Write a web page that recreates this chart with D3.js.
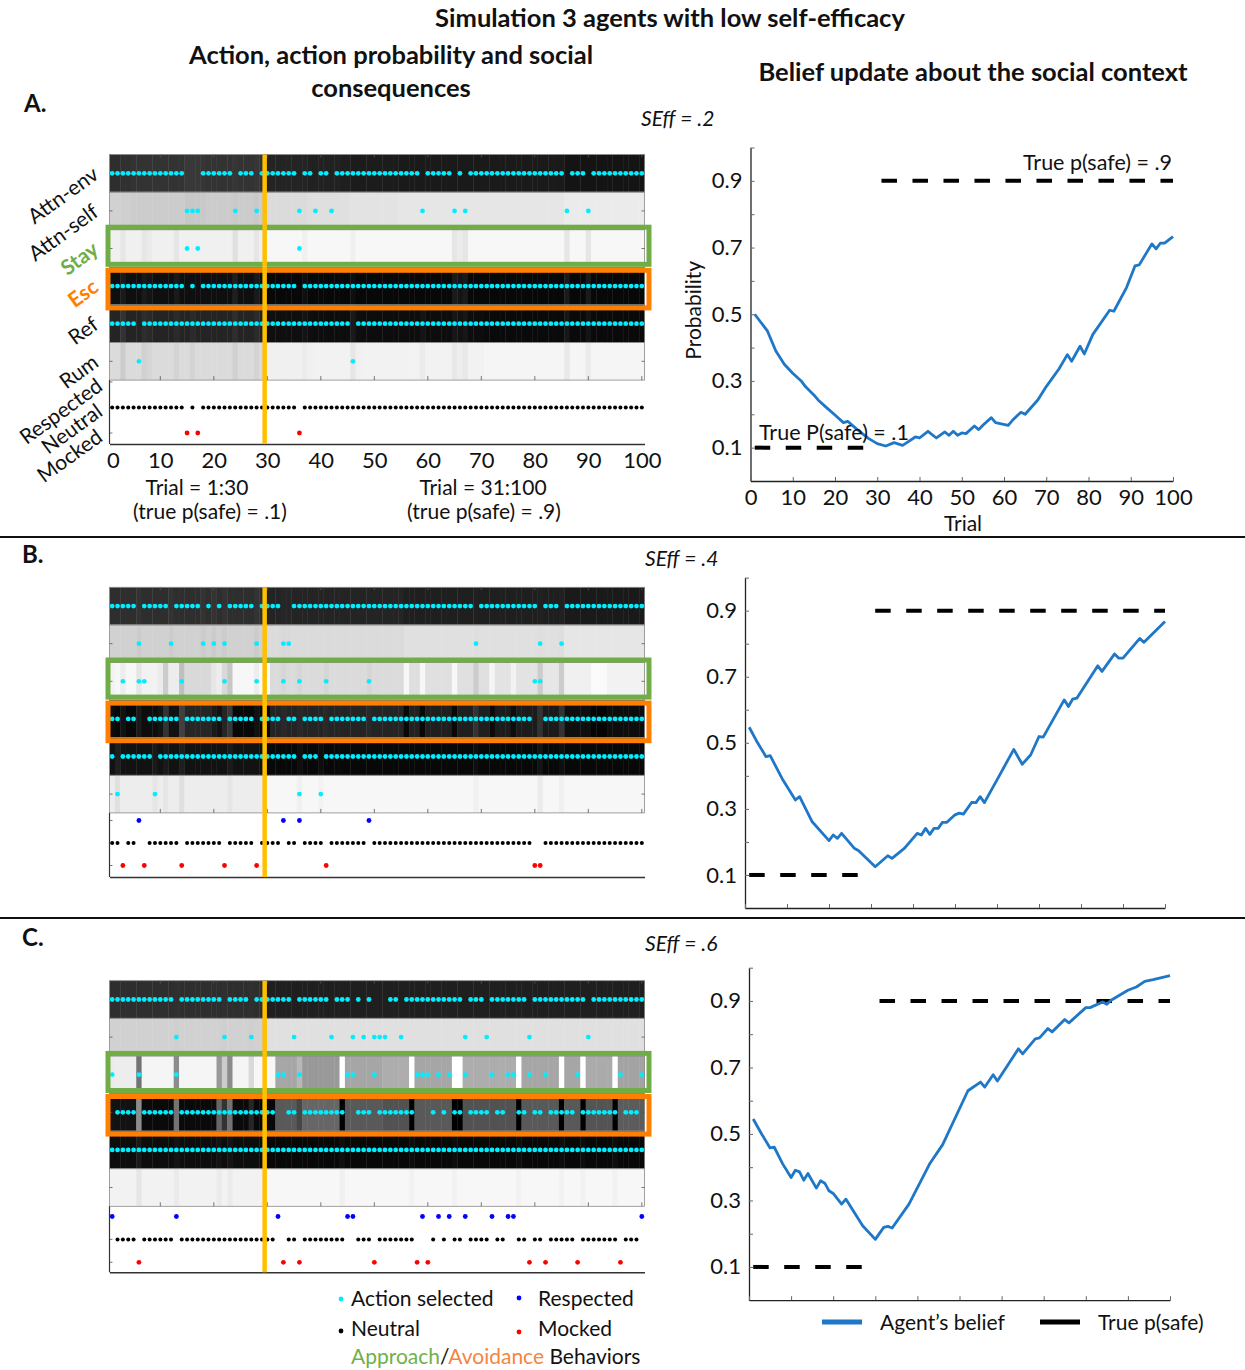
<!DOCTYPE html>
<html>
<head>
<meta charset="utf-8">
<script src="https://cdn.jsdelivr.net/npm/d3@7"></script>
<style>
  body { margin: 0; background: #fff; }
  svg { display: block; }
  text { font-family: Lato, "Open Sans", sans-serif; fill: #111; }
</style>
</head>
<body>
<div id="chart"></div>
<script>
// ---- shared categories / ticks ----
const trials = d3.range(1, 101);
const actionRows = ["Attn-env", "Attn-self", "Stay", "Esc", "Ref", "Rum"];
const outcomeRows = ["Respected", "Neutral", "Mocked"];
const trialTicks = [0, 10, 20, 30, 40, 50, 60, 70, 80, 90, 100];
const probTicks = [0.1, 0.2, 0.3, 0.4, 0.5, 0.6, 0.7, 0.8, 0.9, 1.0];
const switchTrial = 30;
const trueSafe = [{ from: 1, to: 30, p: 0.1 }, { from: 31, to: 100, p: 0.9 }];

// ---- panel A (SEff = .2) ----
const attnSelfA = [15, 16, 17, 24, 28, 36, 39, 42, 59, 65, 67, 86, 90];
const stayA = [15, 17, 36];
const rumA = [6, 46];
const respectedA = [];
const mockedA = [15, 17, 36];
const pSelfA = [
  .18,.18,.19,.19,.2,.2,.2,.2,.2,.2, .2,.2,.2,.2,.22,.22,.22,.21,.2,.2,
  .2,.2,.2,.21,.2,.2,.2,.21,.2,.14, .14,.14,.14,.14,.14,.14,.14,.13,.13,.13,
  .13,.13,.13,.12,.12,.11,.11,.11,.11,.11, .11,.11,.11,.11,.1,.1,.1,.1,.1,.1,
  .1,.1,.1,.1,.1,.1,.1,.1,.1,.1, .1,.1,.1,.1,.1,.1,.1,.1,.1,.1,
  .1,.1,.1,.1,.1,.08,.08,.08,.08,.08, .08,.08,.08,.08,.08,.08,.08,.08,.08,.08];
const pStayA = [
  .06,.06,.1,.06,.06,.06,.1,.08,.06,.06, .06,.06,.1,.06,.06,.06,.06,.06,.06,.06,
  .06,.06,.06,.12,.06,.06,.06,.1,.06,.03, .03,.03,.03,.03,.03,.03,.06,.03,.03,.03,
  .03,.03,.03,.03,.03,.06,.03,.03,.03,.03, .03,.03,.03,.03,.03,.03,.03,.03,.03,.03,
  .03,.03,.03,.03,.1,.08,.1,.03,.03,.03, .03,.03,.03,.03,.03,.03,.03,.03,.03,.03,
  .03,.03,.03,.03,.03,.1,.03,.03,.03,.1, .03,.03,.03,.03,.03,.03,.03,.03,.03,.03];
const pRumA = [
  .14,.14,.2,.14,.14,.14,.18,.16,.14,.14, .14,.14,.17,.14,.14,.17,.14,.14,.14,.14,
  .14,.14,.14,.18,.14,.14,.14,.17,.14,.06, .06,.06,.06,.06,.06,.06,.08,.06,.05,.05,
  .05,.05,.05,.05,.05,.1,.06,.05,.05,.05, .05,.05,.05,.05,.05,.05,.05,.05,.08,.05,
  .05,.05,.05,.05,.09,.07,.09,.05,.05,.05, .04,.04,.04,.04,.04,.04,.04,.04,.04,.04,
  .04,.04,.04,.04,.04,.09,.04,.04,.04,.08, .04,.04,.04,.04,.04,.04,.04,.04,.04,.04];
const beliefA = [
  [1,.50],[4,.45],[6,.39],[8,.35],[10,.323],[12,.30],[13,.283],[15,.258],[16,.243],[18,.22],
  [20,.198],[22,.175],[23,.179],[25,.157],[27,.137],[28,.127],[30,.112],[32,.105],[34,.115],[36,.107],
  [37,.115],[39,.132],[40,.129],[42,.149],[44,.129],[46,.147],[47,.137],[48,.149],[49,.137],[50,.144],
  [51,.142],[53,.165],[54,.154],[55,.167],[57,.19],[58,.175],[61,.167],[62,.182],[64,.206],[65,.2],
  [68,.243],[70,.283],[73,.336],[75,.379],[76,.359],[78,.404],[79,.381],[81,.439],[85,.512],[86,.509],
  [89,.58],[91,.645],[92,.648],[95,.711],[96,.696],[97,.713],[98,.713],[100,.733]];

// ---- panel B (SEff = .4) ----
const attnSelfB = [6, 12, 18, 20, 22, 28, 33, 34, 69, 81, 85];
const stayB = [3, 6, 7, 14, 22, 28, 33, 36, 41, 49, 80, 81];
const rumB = [2, 9, 36, 40];
const respectedB = [6, 33, 36, 49];
const mockedB = [3, 7, 14, 22, 28, 41, 80, 81];
const pSelfB = [
  .18,.18,.18,.18,.18,.2,.18,.18,.18,.18, .18,.2,.18,.18,.18,.18,.18,.2,.18,.2,
  .18,.2,.18,.18,.18,.18,.18,.2,.18,.14, .14,.14,.15,.15,.14,.14,.14,.14,.14,.14,
  .14,.14,.14,.14,.14,.14,.14,.14,.14,.14, .14,.14,.14,.14,.14,.12,.12,.12,.12,.12,
  .12,.12,.12,.12,.12,.12,.12,.12,.13,.12, .12,.12,.12,.12,.12,.12,.12,.12,.12,.12,
  .13,.12,.12,.12,.13,.1,.1,.1,.1,.1, .1,.1,.1,.1,.1,.1,.1,.1,.1,.1];
const pStayB = [
  .05,.03,.07,.03,.03,.1,.05,.05,.05,.08, .2,.07,.07,.25,.15,.15,.15,.15,.15,.1,
  .07,.15,.22,.03,.03,.03,.03,.07,.02,.02, .14,.14,.16,.14,.14,.16,.14,.14,.14,.14,
  .16,.14,.14,.14,.14,.14,.14,.14,.16,.14, .14,.14,.14,.14,.14,.03,.13,.13,.03,.12,
  .12,.12,.12,.12,.03,.12,.12,.12,.2,.12, .12,.04,.11,.11,.11,.05,.11,.11,.11,.11,
  .2,.1,.1,.1,.2,.06,.06,.06,.06,.06, .02,.02,.02,.05,.05,.05,.05,.05,.05,.05];
const pRumB = [
  .07,.12,.07,.07,.07,.07,.07,.07,.1,.07, .1,.07,.07,.12,.07,.07,.07,.07,.07,.07,
  .07,.07,.1,.07,.07,.07,.07,.07,.07,.03, .03,.03,.03,.03,.03,.06,.03,.03,.03,.05,
  .03,.03,.03,.03,.03,.03,.03,.03,.03,.03, .03,.03,.03,.03,.03,.03,.03,.03,.03,.03,
  .03,.03,.03,.03,.03,.03,.03,.03,.06,.03, .03,.03,.03,.03,.03,.03,.03,.03,.03,.03,
  .08,.03,.03,.03,.06,.03,.03,.03,.03,.03, .03,.03,.03,.03,.03,.03,.03,.03,.03,.03];
const beliefB = [
  [1,.547],[3,.50],[5,.458],[6,.461],[9,.388],[12,.327],[13,.337],[16,.261],[20,.204],[21,.221],
  [22,.211],[23,.226],[26,.181],[27,.174],[31,.125],[34,.158],[35,.15],[38,.181],[41,.226],[42,.221],
  [43,.241],[44,.223],[45,.241],[46,.241],[47,.259],[48,.259],[50,.282],[51,.287],[52,.284],[54,.32],
  [55,.319],[56,.337],[57,.319],[60,.388],[64,.48],[66,.435],[68,.463],[70,.519],[71,.517],[76,.63],
  [77,.61],[78,.632],[79,.635],[84,.733],[85,.716],[88,.769],[89,.756],[90,.756],[94,.816],[95,.804],
  [100,.867]];

// ---- panel C (SEff = .6) ----
const attnSelfC = [13, 22, 27, 35, 42, 46, 48, 50, 51, 52, 55, 67, 71, 79, 90];
const stayC = [1, 6, 13, 32, 33, 36, 45, 46, 50, 58, 59, 60, 62, 64, 67, 72, 75, 76, 79, 82, 88, 96, 100];
const rumC = [];
const respectedC = [1, 13, 32, 45, 46, 59, 62, 64, 67, 72, 75, 76, 100];
const mockedC = [6, 33, 36, 50, 58, 60, 79, 82, 88, 96];
const pSelfC = [
  .18,.18,.18,.18,.18,.18,.18,.18,.18,.18, .18,.18,.19,.18,.18,.18,.18,.18,.18,.18,
  .18,.19,.18,.18,.18,.18,.19,.18,.18,.12, .12,.12,.12,.12,.12,.12,.12,.12,.12,.12,
  .12,.12,.12,.12,.12,.12,.12,.12,.12,.12, .12,.12,.12,.12,.12,.12,.12,.12,.12,.12,
  .12,.12,.12,.12,.12,.12,.12,.12,.12,.12, .12,.12,.12,.12,.12,.12,.12,.12,.12,.12,
  .12,.12,.12,.12,.12,.12,.12,.12,.12,.12, .12,.12,.12,.12,.12,.12,.12,.12,.12,.12];
const pStayC = [
  .08,.07,.07,.07,.07,.55,.04,.04,.04,.04, .04,.04,.45,.04,.04,.04,.04,.04,.04,.04,
  .4,.2,.45,.04,.04,.04,.15,.03,.03,.03, .03,.35,.35,.35,.35,.28,.4,.4,.4,.4,
  .4,.4,.4,0,.35,.35,.35,.35,.35,.35, .35,.32,.32,.32,.32,.32,0,.35,.35,.35,
  .35,.35,.35,.35,0,0,.32,.32,.32,.32, .32,.32,.32,.32,.32,.32,0,.35,.35,.35,
  .35,.35,.35,.35,0,.35,.35,.35,0,.33, .33,.33,.33,.33,0,.36,.36,.36,.36,.36];
const pRumC = [
  .05,.05,.05,.05,.05,.1,.05,.05,.05,.05, .05,.05,.08,.05,.05,.05,.05,.05,.05,.05,
  .08,.05,.08,.05,.05,.05,.05,.05,.05,.03, .03,.03,.03,.03,.03,.03,.03,.03,.03,.03,
  .03,.03,.03,.06,.03,.03,.03,.03,.03,.03, .03,.03,.03,.03,.03,.03,.05,.03,.03,.03,
  .03,.03,.03,.03,.05,.03,.03,.03,.03,.03, .03,.03,.03,.03,.03,.03,.05,.03,.03,.03,
  .03,.03,.03,.03,.05,.03,.03,.03,.05,.03, .03,.03,.03,.03,.05,.03,.03,.03,.03,.03];
const beliefC = [
  [1,.545],[3,.50],[5,.458],[6,.46],[8,.41],[10,.369],[11,.391],[12,.386],[13,.361],[14,.381],
  [16,.337],[17,.359],[18,.352],[19,.329],[20,.321],[22,.289],[23,.304],[27,.224],[30,.183],[32,.219],
  [33,.222],[34,.217],[38,.289],[43,.412],[46,.468],[52,.63],[55,.656],[56,.641],[58,.678],[59,.659],
  [64,.756],[65,.741],[68,.786],[69,.789],[71,.817],[72,.807],[75,.844],[76,.834],[80,.88],[81,.88],
  [84,.897],[85,.89],[86,.902],[90,.932],[92,.942],[94,.959],[96,.964],[100,.976]];

// ---- layout ----
const width = 1245, height = 1370;
const rowH = 37.6;
const green = "#70ad47", orange = "#ff8000", gold = "#ffc000";
const beliefBlue = "#1f77c8";

const panels = [
  { id: "A", seff: ".2", attnSelf: attnSelfA, stay: stayA, rum: rumA, respected: respectedA, mocked: mockedA,
    pSelf: pSelfA, pStay: pStayA, pRum: pRumA, belief: beliefA,
    top: 154.5, respY: 382, mockY: 433, bottom: 444, letterY: 112, seffX: 641, seffY: 126,
    frame: { x0: 750.5, x1: 1173, y0: 481, y1: 147.5 } },
  { id: "B", seff: ".4", attnSelf: attnSelfB, stay: stayB, rum: rumB, respected: respectedB, mocked: mockedB,
    pSelf: pSelfB, pStay: pStayB, pRum: pRumB, belief: beliefB,
    top: 587.3, respY: 820.5, mockY: 865.5, bottom: 877, letterY: 563, seffX: 645, seffY: 566,
    frame: { x0: 745, x1: 1165, y0: 908, y1: 577.6 } },
  { id: "C", seff: ".6", attnSelf: attnSelfC, stay: stayC, rum: rumC, respected: respectedC, mocked: mockedC,
    pSelf: pSelfC, pStay: pStayC, pRum: pRumC, belief: beliefC,
    top: 980.7, respY: 1216.5, mockY: 1262.3, bottom: 1272.3, letterY: 946, seffX: 645, seffY: 951,
    frame: { x0: 749, x1: 1170, y0: 1300.2, y1: 967.7 } }
];

const svg = d3.select("#chart").append("svg")
  .attr("width", width).attr("height", height)
  .attr("viewBox", `0 0 ${width} ${height}`);
svg.append("rect").attr("width", width).attr("height", height).attr("fill", "#fff");

// ---- titles ----
svg.append("text").attr("x", 670).attr("y", 27).attr("text-anchor", "middle")
  .style("font-size", "25.5px").style("font-weight", "700").text("Simulation 3 agents with low self-efficacy");
svg.append("text").attr("x", 391).attr("y", 64).attr("text-anchor", "middle")
  .style("font-size", "25.5px").style("font-weight", "700").text("Action, action probability and social");
svg.append("text").attr("x", 391).attr("y", 97).attr("text-anchor", "middle")
  .style("font-size", "25.5px").style("font-weight", "700").text("consequences");
svg.append("text").attr("x", 973).attr("y", 81).attr("text-anchor", "middle")
  .style("font-size", "25.5px").style("font-weight", "700").text("Belief update about the social context");

// separators
[537, 918].forEach(y => svg.append("line").attr("x1", 0).attr("x2", width)
  .attr("y1", y).attr("y2", y).attr("stroke", "#111").attr("stroke-width", 2));

// ---- scales shared by heatmaps ----
const xHeat = d3.scaleLinear().domain([0.5, 100.5]).range([109.5, 644.5]);
const shade = d3.interpolateRgb("#000", "#fff");

function drawHeatPanel(p) {
  const g = svg.append("g");
  const yRow = d3.scaleBand().domain(actionRows).range([p.top, p.top + rowH * actionRows.length]);
  const rowsBottom = p.top + rowH * actionRows.length;
  const yOut = d3.scalePoint().domain(outcomeRows).range([p.respY, p.mockY]);

  // lightness of each row at trial t (black = high probability)
  const lightness = {
    "Attn-env": i => p.pSelf[i],
    "Attn-self": i => 1 - p.pSelf[i],
    "Stay": i => 1 - p.pStay[i],
    "Esc": i => p.pStay[i],
    "Ref": i => p.pRum[i],
    "Rum": i => 1 - p.pRum[i]
  };

  const cells = [];
  actionRows.forEach(r => trials.forEach((t, i) => cells.push({ r, t, v: lightness[r](i) })));
  g.append("g").selectAll("rect").data(cells).join("rect")
    .attr("x", d => xHeat(d.t - 0.5))
    .attr("y", d => yRow(d.r))
    .attr("width", d => xHeat(d.t + 0.5) - xHeat(d.t - 0.5) + 0.4)
    .attr("height", yRow.bandwidth())
    .attr("fill", d => shade(d.v));

  // row frames
  g.append("g").selectAll("rect").data(actionRows).join("rect")
    .attr("x", xHeat(0.5)).attr("y", d => yRow(d))
    .attr("width", xHeat(100.5) - xHeat(0.5)).attr("height", yRow.bandwidth())
    .attr("fill", "none").attr("stroke", "#8a8a8a").attr("stroke-width", 0.8);

  // small inside ticks on the row edges
  const tickG = g.append("g").attr("stroke", "#555").attr("stroke-width", 0.8);
  actionRows.forEach(r => {
    const cy = yRow(r) + yRow.bandwidth() / 2;
    tickG.append("line").attr("x1", xHeat(0.5)).attr("x2", xHeat(0.5) + 3).attr("y1", cy).attr("y2", cy);
    tickG.append("line").attr("x1", xHeat(100.5)).attr("x2", xHeat(100.5) - 3).attr("y1", cy).attr("y2", cy);
  });
  trialTicks.filter(t => t > 0).forEach(t => {
    tickG.append("line").attr("x1", xHeat(t)).attr("x2", xHeat(t))
      .attr("y1", rowsBottom).attr("y2", rowsBottom - 4);
    tickG.append("line").attr("x1", xHeat(t)).attr("x2", xHeat(t))
      .attr("y1", p.top).attr("y2", p.top + 3);
  });
  outcomeRows.forEach(o => tickG.append("line").attr("x1", xHeat(0.5)).attr("x2", xHeat(0.5) + 3)
    .attr("y1", yOut(o)).attr("y2", yOut(o)));

  // selected actions
  const picks = [];
  trials.forEach(t => {
    picks.push({ t, r: p.attnSelf.includes(t) ? "Attn-self" : "Attn-env" });
    picks.push({ t, r: p.stay.includes(t) ? "Stay" : "Esc" });
    picks.push({ t, r: p.rum.includes(t) ? "Rum" : "Ref" });
  });
  g.append("g").selectAll("circle").data(picks).join("circle")
    .attr("cx", d => xHeat(d.t))
    .attr("cy", d => yRow(d.r) + yRow.bandwidth() / 2)
    .attr("r", 2.4).attr("fill", "#00eeff");

  // social consequences
  const outcomes = trials.map(t => ({
    t, o: p.respected.includes(t) ? "Respected" : p.mocked.includes(t) ? "Mocked" : "Neutral"
  }));
  const outColor = { Respected: "#0000ff", Neutral: "#000", Mocked: "#ff0000" };
  g.append("g").selectAll("circle").data(outcomes).join("circle")
    .attr("cx", d => xHeat(d.t)).attr("cy", d => yOut(d.o))
    .attr("r", d => d.o === "Neutral" ? 2 : 2.4)
    .attr("fill", d => outColor[d.o]);

  // outcome axes (left line + bottom axis)
  g.append("line").attr("x1", xHeat(0.5)).attr("x2", xHeat(0.5))
    .attr("y1", rowsBottom).attr("y2", p.bottom).attr("stroke", "#333").attr("stroke-width", 1.2);
  const bottomAxis = d3.axisBottom(xHeat).tickValues(trialTicks).tickSize(0).tickSizeOuter(0).tickPadding(8)
    .tickFormat(p.id === "A" ? d3.format("d") : () => "");
  const axG = g.append("g").attr("transform", `translate(0,${p.bottom})`).call(bottomAxis);
  axG.select(".domain").attr("stroke", "#333").attr("stroke-width", 1.4);
  axG.selectAll("text").style("font-size", "22px").style("font-family", "Lato, sans-serif").attr("fill", "#111")
    .attr("dx", d => d === 0 ? 6 : 0);

  // approach / avoidance boxes
  g.append("rect").attr("x", 108).attr("y", yRow("Stay") - 2.5)
    .attr("width", 541).attr("height", yRow.bandwidth() - 0.5)
    .attr("fill", "none").attr("stroke", green).attr("stroke-width", 5);
  g.append("rect").attr("x", 108).attr("y", yRow("Esc") + 3)
    .attr("width", 541).attr("height", yRow.bandwidth())
    .attr("fill", "none").attr("stroke", orange).attr("stroke-width", 5);

  // context switch line
  g.append("line").attr("x1", xHeat(switchTrial - 0.5)).attr("x2", xHeat(switchTrial - 0.5))
    .attr("y1", p.top).attr("y2", p.bottom).attr("stroke", gold).attr("stroke-width", 4.5);

  // labels only on panel A
  if (p.id === "A") {
    const labelStyle = { Stay: { fill: green, weight: 700 }, Esc: { fill: orange, weight: 700 } };
    actionRows.forEach(r => {
      const cy = yRow(r) + yRow.bandwidth() / 2;
      const st = labelStyle[r] || { fill: "#111", weight: 400 };
      g.append("text").attr("transform", `translate(100,${cy + 4}) rotate(-36)`)
        .attr("text-anchor", "end").style("font-size", "21px")
        .style("font-weight", st.weight).style("fill", st.fill).text(r);
    });
    outcomeRows.forEach(o => {
      g.append("text").attr("transform", `translate(104,${yOut(o) + 7}) rotate(-36)`)
        .attr("text-anchor", "end").style("font-size", "21px").text(o);
    });
    [{ c: 197, a: "Trial = 1:30", b: "(true p(safe) = .1)", bc: 210 },
     { c: 483, a: "Trial = 31:100", b: "(true p(safe) = .9)", bc: 484 }].forEach(l => {
      g.append("text").attr("x", l.c).attr("y", 495).attr("text-anchor", "middle").style("font-size", "21px").text(l.a);
      g.append("text").attr("x", l.bc).attr("y", 519).attr("text-anchor", "middle").style("font-size", "21px").text(l.b);
    });
  }

  // panel letter and self-efficacy label
  svg.append("text").attr("x", p.id === "A" ? 24 : 22).attr("y", p.letterY)
    .style("font-size", "24px").style("font-weight", "700").text(p.id + ".");
  svg.append("text").attr("x", p.seffX).attr("y", p.seffY)
    .style("font-size", "21px").style("font-style", "italic").text(`SEff = ${p.seff}`);
}

function drawBeliefPanel(p) {
  const f = p.frame;
  const g = svg.append("g");
  const xB = d3.scaleLinear().domain([0, 100]).range([f.x0, f.x1]);
  const yB = d3.scaleLinear().domain([0, 1]).range([f.y0, f.y1]);

  const yAxis = d3.axisLeft(yB).tickValues(probTicks).tickSizeInner(-4).tickSizeOuter(0).tickPadding(8)
    .tickFormat(d => Math.round(d * 10) % 2 === 1 ? d3.format(".1f")(d) : "");
  const xAxis = d3.axisBottom(xB).tickValues(trialTicks).tickSizeInner(-4).tickSizeOuter(0).tickPadding(8)
    .tickFormat(p.id === "A" ? d3.format("d") : () => "");

  const ya = g.append("g").attr("transform", `translate(${f.x0},0)`).call(yAxis);
  const xa = g.append("g").attr("transform", `translate(0,${f.y0})`).call(xAxis);
  [ya, xa].forEach(a => {
    a.select(".domain").attr("stroke", "#222").attr("stroke-width", 1.3);
    a.selectAll(".tick line").attr("stroke", "#666");
    a.selectAll("text").style("font-size", "22px").style("font-family", "Lato, sans-serif").attr("fill", "#111");
  });

  // true p(safe)
  g.append("g").selectAll("line").data(trueSafe).join("line")
    .attr("x1", d => xB(d.from)).attr("x2", d => xB(d.to))
    .attr("y1", d => yB(d.p)).attr("y2", d => yB(d.p))
    .attr("stroke", "#000").attr("stroke-width", 4).attr("stroke-dasharray", "15.5 15.5");

  // agent's belief
  const line = d3.line().x(d => xB(d[0])).y(d => yB(d[1]));
  g.append("path").datum(p.belief).attr("d", line)
    .attr("fill", "none").attr("stroke", beliefBlue).attr("stroke-width", 2.8).attr("stroke-linejoin", "round");

  if (p.id === "A") {
    g.append("text").attr("x", f.x1 - 1).attr("y", 170).attr("text-anchor", "end")
      .style("font-size", "21.5px").text("True p(safe) = .9");
    g.append("text").attr("x", 759).attr("y", 440).style("font-size", "21.5px").text("True P(safe) = .1");
    g.append("text").attr("transform", `translate(701,${(f.y0 + f.y1) / 2 - 4}) rotate(-90)`)
      .attr("text-anchor", "middle").style("font-size", "21px").text("Probability");
    g.append("text").attr("x", 963).attr("y", 531).attr("text-anchor", "middle")
      .style("font-size", "21px").text("Trial");
  }
}

panels.forEach(p => { drawHeatPanel(p); drawBeliefPanel(p); });

// ---- legends ----
const legendDots = [
  { label: "Action selected", color: "#00eeff", x: 341, y: 1299, tx: 351, ty: 1306 },
  { label: "Respected", color: "#0000ff", x: 519, y: 1298, tx: 538, ty: 1306 },
  { label: "Neutral", color: "#000", x: 341, y: 1331, tx: 351, ty: 1336 },
  { label: "Mocked", color: "#ff0000", x: 519, y: 1332, tx: 538, ty: 1336 }
];
legendDots.forEach(l => {
  svg.append("circle").attr("cx", l.x).attr("cy", l.y).attr("r", 2.4).attr("fill", l.color);
  svg.append("text").attr("x", l.tx).attr("y", l.ty).style("font-size", "21px").text(l.label);
});
const behav = svg.append("text").attr("x", 351).attr("y", 1364).style("font-size", "21px");
behav.append("tspan").style("fill", "#6fb04a").text("Approach");
behav.append("tspan").style("fill", "#111").text("/");
behav.append("tspan").style("fill", "#f5853f").text("Avoidance");
behav.append("tspan").style("fill", "#111").text(" Behaviors");

const lineLegend = [
  { label: "Agent\u2019s belief", color: beliefBlue, x: 822, tx: 880 },
  { label: "True p(safe)", color: "#000", x: 1040, tx: 1098 }
];
lineLegend.forEach(l => {
  svg.append("line").attr("x1", l.x).attr("x2", l.x + 40).attr("y1", 1322).attr("y2", 1322)
    .attr("stroke", l.color).attr("stroke-width", 5);
  svg.append("text").attr("x", l.tx).attr("y", 1330).style("font-size", "21px").text(l.label);
});
</script>
</body>
</html>
